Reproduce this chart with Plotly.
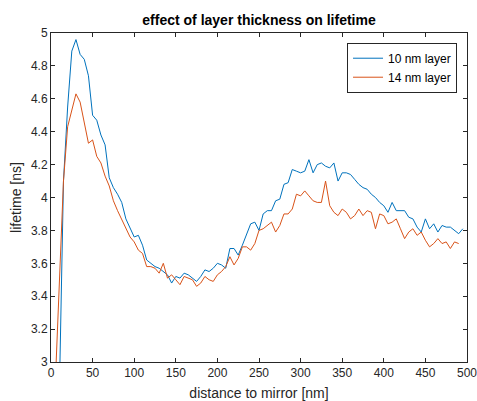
import plotly.graph_objects as go

x_blue = list(range(10, 500, 5))
y_blue = [2.8, 4.1, 4.55, 4.89, 4.96, 4.87, 4.84, 4.74, 4.50, 4.47,
          4.38, 4.32, 4.12, 4.06, 4.02, 3.97, 3.87, 3.81, 3.76, 3.77,
          3.71, 3.62, 3.60, 3.58, 3.57, 3.55, 3.53, 3.48, 3.52, 3.51,
          3.54, 3.53, 3.51, 3.49, 3.52, 3.56, 3.55, 3.57, 3.60, 3.59,
          3.57, 3.69, 3.69, 3.65, 3.71, 3.77, 3.84, 3.85, 3.80, 3.90,
          3.92, 3.92, 3.98, 3.99, 4.08, 4.09, 4.17, 4.16, 4.15, 4.16,
          4.23, 4.15, 4.20, 4.21, 4.19, 4.18, 4.21, 4.10, 4.15, 4.15,
          4.14, 4.11, 4.08, 4.06, 4.05, 4.02, 4.00, 3.97, 3.95, 3.91,
          3.97, 3.92, 3.92, 3.92, 3.88, 3.87, 3.82, 3.79, 3.87, 3.81,
          3.84, 3.79, 3.83, 3.82, 3.82, 3.80, 3.78, 3.81]

x_orange = list(range(5, 495, 5))
y_orange = [2.85, 3.45, 4.10, 4.43, 4.53, 4.63, 4.58, 4.46, 4.33, 4.35,
            4.25, 4.21, 4.13, 4.07, 3.98, 3.92, 3.87, 3.82, 3.76, 3.73,
            3.68, 3.66, 3.58, 3.58, 3.57, 3.54, 3.60, 3.51, 3.53, 3.50,
            3.47, 3.52, 3.51, 3.50, 3.46, 3.48, 3.52, 3.50, 3.49, 3.53,
            3.55, 3.58, 3.64, 3.59, 3.63, 3.70, 3.70, 3.68, 3.72, 3.80,
            3.81, 3.83, 3.85, 3.79, 3.83, 3.90, 3.90, 3.93, 4.02, 4.01,
            4.04, 4.01, 3.98, 3.97, 3.97, 4.10, 3.95, 3.91, 3.89, 3.93,
            3.91, 3.87, 3.89, 3.93, 3.89, 3.92, 3.91, 3.81, 3.90, 3.89,
            3.84, 3.85, 3.87, 3.81, 3.75, 3.79, 3.81, 3.77, 3.79, 3.74,
            3.70, 3.72, 3.75, 3.72, 3.73, 3.69, 3.73, 3.72]

x_ticks = [0, 50, 100, 150, 200, 250, 300, 350, 400, 450, 500]
y_ticks = [3, 3.2, 3.4, 3.6, 3.8, 4, 4.2, 4.4, 4.6, 4.8, 5]

FONT = "Liberation Sans, Arial, sans-serif"
AX = "#262626"

fig = go.Figure()
fig.add_trace(go.Scatter(x=x_blue, y=y_blue, mode="lines", name="10 nm layer",
                         line=dict(color="#0072BD", width=1)))
fig.add_trace(go.Scatter(x=x_orange, y=y_orange, mode="lines", name="14 nm layer",
                         line=dict(color="#D95319", width=1)))

axis_common = dict(showgrid=False, zeroline=False, showline=True, linecolor=AX,
                   linewidth=1, mirror="ticks", ticks="inside", ticklen=4,
                   tickcolor=AX, tickwidth=1, automargin=False,
                   ticklabeloverflow="allow",
                   tickfont=dict(family=FONT, size=12, color=AX))

fig.update_layout(
    width=477, height=401,
    margin=dict(l=51, r=10, t=33, b=39),
    paper_bgcolor="white", plot_bgcolor="white",
    title=dict(text="<b>effect of layer thickness on lifetime</b>", x=0.543, xanchor="center",
               y=0.95, yanchor="middle", font=dict(family=FONT, size=14, color="black")),
    xaxis=dict(range=[0, 500], tickvals=x_ticks, ticktext=[str(v) for v in x_ticks],
               title=dict(text="distance to mirror [nm]", standoff=10,
                          font=dict(family=FONT, size=14, color=AX)),
               **axis_common),
    yaxis=dict(range=[3, 5], tickvals=y_ticks, ticktext=[f"{v:g}" for v in y_ticks],
               title=dict(text="lifetime [ns]", standoff=6,
                          font=dict(family=FONT, size=14, color=AX)),
               **axis_common),
    legend=dict(x=0.976, y=0.9705, xanchor="right", yanchor="top",
                bgcolor="white", bordercolor=AX, borderwidth=1,
                font=dict(family=FONT, size=12, color="black"),
                tracegroupgap=0, itemwidth=30),
    showlegend=True,
)

fig.write_html("out.html")
